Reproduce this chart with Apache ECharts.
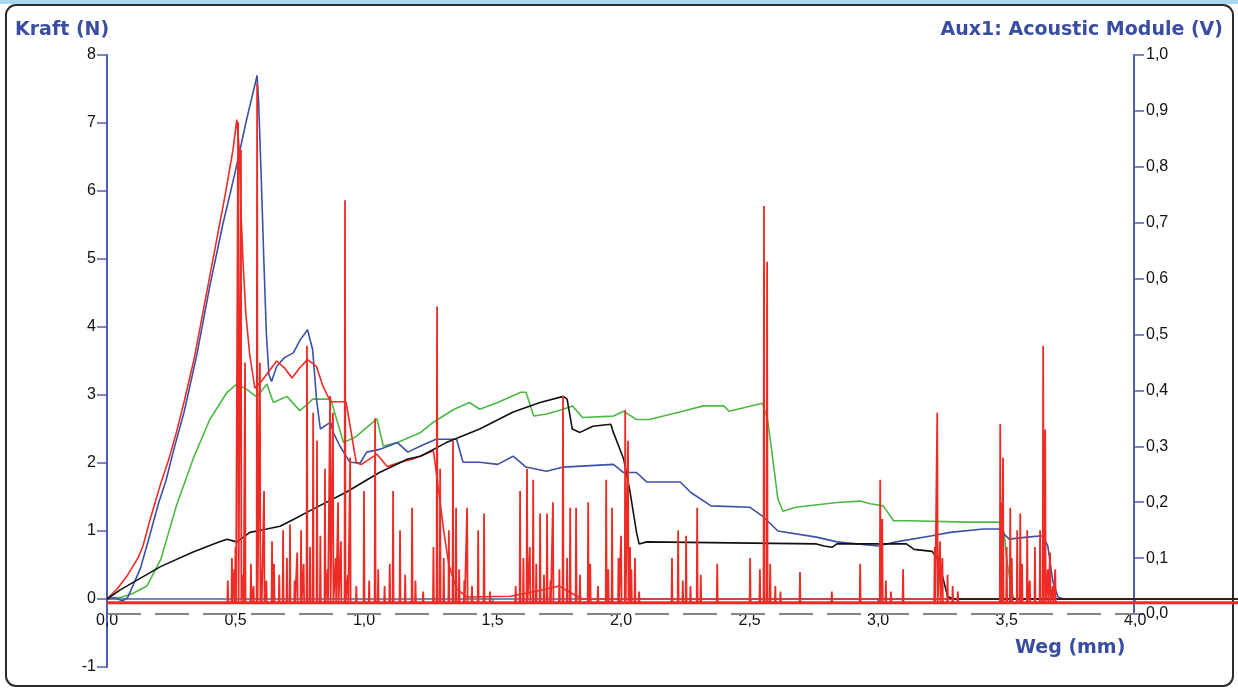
<!DOCTYPE html>
<html>
<head>
<meta charset="utf-8">
<script src="https://cdn.jsdelivr.net/npm/echarts@6/dist/echarts.min.js"></script>
<style>
  html, body { margin: 0; padding: 0; background: #ffffff; }
  #chart { width: 1238px; height: 689px; }
</style>
</head>
<body>
<div id="chart"></div>
<script>
// Kraft (N) über Weg (mm), vier Proben
const kraftRot = [
  [0,0],[0.04,0.15],[0.08,0.35],[0.12,0.6],[0.14,0.78],[0.17,1.2],[0.206,1.66],[0.24,2.05],
  [0.27,2.45],[0.3,2.9],[0.34,3.55],[0.38,4.35],[0.42,5.15],[0.46,5.95],[0.49,6.6],[0.505,7.05],
  [0.515,6.6],[0.52,5.8],[0.53,4.9],[0.54,4.2],[0.555,3.6],[0.575,3.1],[0.6,3.2],[0.63,3.35],
  [0.66,3.5],[0.69,3.4],[0.72,3.25],[0.75,3.4],[0.78,3.52],[0.815,3.42],[0.84,3.13],[0.87,2.9],
  [0.93,2.9],[0.97,2.0],[0.99,1.98],[1.05,2.13],[1.09,1.95],[1.14,2.01],[1.19,2.06],[1.27,2.18],
  [1.29,1.6],[1.31,1.0],[1.33,0.5],[1.36,0.15],[1.4,0.03],[1.57,0.04],[1.65,0.1],[1.76,0.19],
  [1.8,0.1],[1.85,0.0],[4.4,0]
];
const kraftBlau = [
  [0,0],[0.03,0.02],[0.06,-0.03],[0.08,0.02],[0.1,0.19],[0.13,0.45],[0.16,0.85],[0.2,1.4],
  [0.23,1.75],[0.26,2.2],[0.3,2.75],[0.35,3.6],[0.4,4.6],[0.45,5.5],[0.5,6.3],[0.54,7.0],
  [0.584,7.7],[0.59,7.3],[0.6,6.2],[0.61,5.0],[0.62,3.9],[0.63,3.3],[0.64,3.2],[0.66,3.42],
  [0.69,3.55],[0.725,3.62],[0.75,3.8],[0.78,3.96],[0.8,3.67],[0.815,2.94],[0.83,2.5],[0.87,2.6],
  [0.88,2.45],[0.906,2.25],[0.945,2.01],[0.985,2.0],[1.01,2.16],[1.06,2.2],[1.13,2.3],[1.17,2.16],
  [1.22,2.25],[1.28,2.35],[1.36,2.35],[1.385,2.01],[1.45,2.01],[1.52,1.98],[1.58,2.1],[1.63,1.94],
  [1.71,1.88],[1.775,1.94],[1.97,1.98],[2.01,1.86],[2.06,1.86],[2.1,1.72],[2.23,1.72],[2.27,1.57],
  [2.35,1.37],[2.5,1.35],[2.55,1.22],[2.61,1.0],[2.76,0.91],[2.84,0.84],[3.0,0.78],[3.07,0.84],
  [3.21,0.93],[3.28,0.98],[3.41,1.03],[3.47,1.03],[3.51,0.88],[3.58,0.91],[3.64,0.93],[3.66,0.78],
  [3.68,0.25],[3.7,0.03],[3.72,0],[4.4,0]
];
const kraftGruen = [
  [0,0],[0.05,0.02],[0.1,0.08],[0.155,0.19],[0.21,0.59],[0.27,1.37],[0.335,2.06],[0.4,2.64],
  [0.467,3.04],[0.505,3.16],[0.545,3.08],[0.583,2.97],[0.622,3.16],[0.647,2.89],[0.7,2.98],
  [0.75,2.77],[0.79,2.9],[0.8,2.94],[0.87,2.94],[0.92,2.3],[0.97,2.39],[1.035,2.6],[1.05,2.65],
  [1.075,2.25],[1.13,2.3],[1.22,2.45],[1.27,2.6],[1.35,2.79],[1.41,2.89],[1.45,2.79],[1.52,2.89],
  [1.61,3.04],[1.63,3.04],[1.66,2.69],[1.71,2.72],[1.775,2.79],[1.81,2.84],[1.85,2.67],[1.97,2.69],
  [2.01,2.76],[2.06,2.64],[2.11,2.64],[2.24,2.76],[2.32,2.84],[2.4,2.84],[2.42,2.76],[2.55,2.88],
  [2.57,2.64],[2.59,2.06],[2.61,1.47],[2.63,1.29],[2.68,1.35],[2.84,1.42],[2.93,1.44],[2.97,1.4],
  [3.02,1.37],[3.06,1.15],[3.12,1.15],[3.35,1.13],[3.47,1.13],[3.49,0.98],[3.5,0.59],[3.52,0.1],
  [3.53,0],[4.4,0]
];
const kraftSchwarz = [
  [0,0],[0.05,0.13],[0.1,0.24],[0.21,0.48],[0.335,0.69],[0.43,0.83],[0.467,0.88],[0.505,0.84],
  [0.556,0.98],[0.622,1.03],[0.673,1.07],[0.725,1.17],[0.79,1.3],[0.93,1.57],[1.06,1.86],
  [1.17,2.06],[1.22,2.1],[1.32,2.3],[1.45,2.5],[1.58,2.75],[1.685,2.89],[1.775,2.98],[1.79,2.94],
  [1.81,2.5],[1.84,2.45],[1.89,2.54],[1.96,2.57],[1.97,2.45],[2.01,2.06],[2.035,1.57],[2.06,0.98],
  [2.07,0.81],[2.1,0.84],[2.76,0.81],[2.79,0.78],[2.82,0.76],[2.84,0.81],[3.11,0.81],[3.14,0.73],
  [3.21,0.7],[3.24,0.54],[3.25,0.34],[3.27,0.04],[3.29,0],[4.4,0]
];
// Aux1: Acoustic Module – Spitzen [Weg (mm), Spannung (V)]
const akustikSpitzen = [
  [0.47,0.06],[0.486,0.10],[0.495,0.08],[0.50,0.12],[0.510,0.88],[0.521,0.83],[0.53,0.07],[0.537,0.45],
  [0.56,0.09],[0.57,0.05],[0.584,0.95],[0.595,0.45],[0.60,0.08],[0.611,0.22],[0.62,0.06],[0.642,0.13],
  [0.65,0.09],[0.67,0.07],[0.685,0.15],[0.70,0.10],[0.712,0.16],[0.73,0.06],[0.74,0.11],[0.755,0.15],
  [0.765,0.09],[0.778,0.48],[0.79,0.12],[0.802,0.36],[0.817,0.31],[0.83,0.14],[0.848,0.26],[0.858,0.08],
  [0.868,0.39],[0.879,0.36],[0.89,0.10],[0.899,0.20],[0.91,0.13],[0.926,0.74],[0.937,0.07],[0.946,0.28],
  [0.97,0.05],[1.0,0.22],[1.02,0.06],[1.043,0.35],[1.055,0.08],[1.08,0.05],[1.10,0.09],[1.113,0.22],
  [1.14,0.15],[1.16,0.07],[1.187,0.19],[1.20,0.06],[1.23,0.04],[1.27,0.12],[1.284,0.55],[1.296,0.26],
  [1.31,0.10],[1.33,0.15],[1.346,0.31],[1.358,0.19],[1.37,0.08],[1.39,0.06],[1.401,0.19],[1.42,0.05],
  [1.444,0.15],[1.467,0.18],[1.49,0.04],[1.59,0.05],[1.607,0.22],[1.62,0.10],[1.634,0.26],[1.645,0.12],
  [1.658,0.24],[1.67,0.09],[1.685,0.18],[1.70,0.07],[1.712,0.18],[1.725,0.06],[1.735,0.20],[1.76,0.08],
  [1.774,0.39],[1.79,0.10],[1.802,0.19],[1.825,0.19],[1.84,0.07],[1.872,0.20],[1.88,0.09],[1.91,0.05],
  [1.942,0.24],[1.95,0.08],[1.965,0.19],[1.99,0.10],[2.0,0.14],[2.016,0.365],[2.027,0.31],[2.035,0.12],
  [2.04,0.08],[2.054,0.10],[2.07,0.04],[2.198,0.10],[2.222,0.15],[2.24,0.06],[2.253,0.14],[2.27,0.05],
  [2.296,0.19],[2.31,0.07],[2.374,0.09],[2.502,0.10],[2.54,0.08],[2.556,0.73],[2.568,0.63],[2.58,0.09],
  [2.60,0.05],[2.62,0.04],[2.696,0.075],[2.82,0.04],[2.93,0.09],[3.008,0.24],[3.016,0.17],[3.03,0.06],
  [3.05,0.04],[3.097,0.08],[3.22,0.12],[3.23,0.36],[3.241,0.13],[3.25,0.10],[3.27,0.07],[3.29,0.05],
  [3.31,0.04],[3.475,0.34],[3.48,0.20],[3.486,0.28],[3.50,0.12],[3.514,0.19],[3.52,0.10],[3.541,0.15],
  [3.553,0.18],[3.56,0.09],[3.58,0.15],[3.59,0.06],[3.61,0.12],[3.63,0.15],[3.642,0.48],[3.65,0.33],
  [3.66,0.08],[3.669,0.11],[3.68,0.05],[3.689,0.08]
];
const akustikGrund = 0.02;
const wegTicks = [0, 0.5, 1.0, 1.5, 2.0, 2.5, 3.0, 3.5, 4.0];
const wegMax = 4.4;

// Each acoustic peak is drawn as a narrow spike rising from the signal floor
const akustikLinie = [[0, akustikGrund]];
akustikSpitzen.slice().sort((a, b) => a[0] - b[0]).forEach(([x, v]) => {
  akustikLinie.push([x - 0.0018, akustikGrund], [x, v], [x + 0.0018, akustikGrund]);
});
akustikLinie.push([wegMax, akustikGrund]);

const ACHSE = '#4a5fb4';
const TITEL = '#3a4da2';
const ROT = '#ee2b24';
const komma = v => v.toFixed(1).replace('.', ',');
const tickFont = { fontFamily: '"Liberation Sans", Arial, sans-serif', fontSize: 16, color: '#111111' };
const titelFont = 'bold 19px "DejaVu Sans", Verdana, sans-serif';

const chart = echarts.init(document.getElementById('chart'), null, { renderer: 'canvas' });

function kraftSerie(name, data, color, z) {
  return {
    name, type: 'line', xAxisIndex: 0, yAxisIndex: 0, data,
    showSymbol: false, symbol: 'none', animation: false, z,
    lineStyle: { color, width: 1.6 }
  };
}

chart.setOption({
  animation: false,
  backgroundColor: '#ffffff',
  grid: [
    { left: 107, right: 0, top: 55, bottom: 22, containLabel: false },
    { left: 107, right: 0, top: 55, bottom: 75, containLabel: false }
  ],
  xAxis: [
    {
      gridIndex: 0, type: 'value', min: 0, max: wegMax,
      axisLine: { show: true, onZero: true, onZeroAxisIndex: 0, lineStyle: { color: ACHSE, width: 1.5 } },
      axisTick: { show: true, customValues: wegTicks, length: 4, lineStyle: { color: ACHSE, width: 1.5 } },
      axisLabel: { show: false },
      splitLine: { show: false }
    },
    {
      gridIndex: 1, type: 'value', min: 0, max: wegMax,
      axisLine: { show: false }, axisTick: { show: false },
      axisLabel: Object.assign({ show: true, customValues: wegTicks, margin: -1, formatter: komma }, tickFont),
      splitLine: { show: false }
    }
  ],
  yAxis: [
    {
      gridIndex: 0, type: 'value', min: -1, max: 8, interval: 1, position: 'left',
      axisLine: { show: true, onZero: false, lineStyle: { color: ACHSE, width: 2 } },
      axisTick: { show: true, length: 10, lineStyle: { color: ACHSE, width: 1.5 } },
      axisLabel: Object.assign({ margin: 11 }, tickFont),
      splitLine: { show: false }
    },
    {
      gridIndex: 1, type: 'value', min: 0, max: 1, interval: 0.1, position: 'right', offset: -104,
      axisLine: { show: true, onZero: false, lineStyle: { color: ACHSE, width: 2 } },
      axisTick: { show: true, length: 10, lineStyle: { color: ACHSE, width: 1.5 } },
      axisLabel: Object.assign({ margin: 12, formatter: komma }, tickFont),
      splitLine: { show: false }
    }
  ],
  graphic: [
    { type: 'rect', z: -10, silent: true, shape: { x: 0, y: 0, width: 1238, height: 4 }, style: { fill: '#a9d6f2' } },
    { type: 'rect', z: -9, silent: true, shape: { x: 6, y: 5, width: 1227, height: 681, r: 10 },
      style: { fill: 'transparent', stroke: '#2b2b2b', lineWidth: 2 } },
    { type: 'text', left: 15, top: 21, z: 10, silent: true,
      style: { text: 'Kraft (N)', font: titelFont, fill: TITEL } },
    { type: 'text', right: 15, top: 21, z: 10, silent: true,
      style: { text: 'Aux1: Acoustic Module (V)', font: titelFont, fill: TITEL } },
    { type: 'text', left: 1015, top: 639, z: 10, silent: true,
      style: { text: 'Weg (mm)', font: titelFont, fill: TITEL } }
  ],
  series: [
    kraftSerie('Probe grün', kraftGruen, '#4cb944', 3),
    kraftSerie('Probe blau', kraftBlau, '#3c50a8', 3),
    kraftSerie('Probe rot', kraftRot, ROT, 3),
    kraftSerie('Probe schwarz', kraftSchwarz, '#111111', 4),
    {
      name: 'Akustik Grundlinie', type: 'line', xAxisIndex: 1, yAxisIndex: 1,
      data: [[0, akustikGrund], [wegMax, akustikGrund]],
      showSymbol: false, symbol: 'none', z: 2,
      lineStyle: { color: ROT, width: 3 },
      markLine: {
        silent: true, symbol: ['none', 'none'], label: { show: false },
        lineStyle: { color: '#858585', type: [34, 14], width: 2 },
        data: [[{ coord: [0, 0] }, { coord: [wegTicks[wegTicks.length - 1], 0] }]]
      }
    },
    {
      name: 'Aux1: Acoustic Module', type: 'line', xAxisIndex: 1, yAxisIndex: 1,
      data: akustikLinie, showSymbol: false, symbol: 'none', z: 5,
      lineStyle: { color: ROT, width: 1.8 }
    }
  ]
});
</script>
</body>
</html>
